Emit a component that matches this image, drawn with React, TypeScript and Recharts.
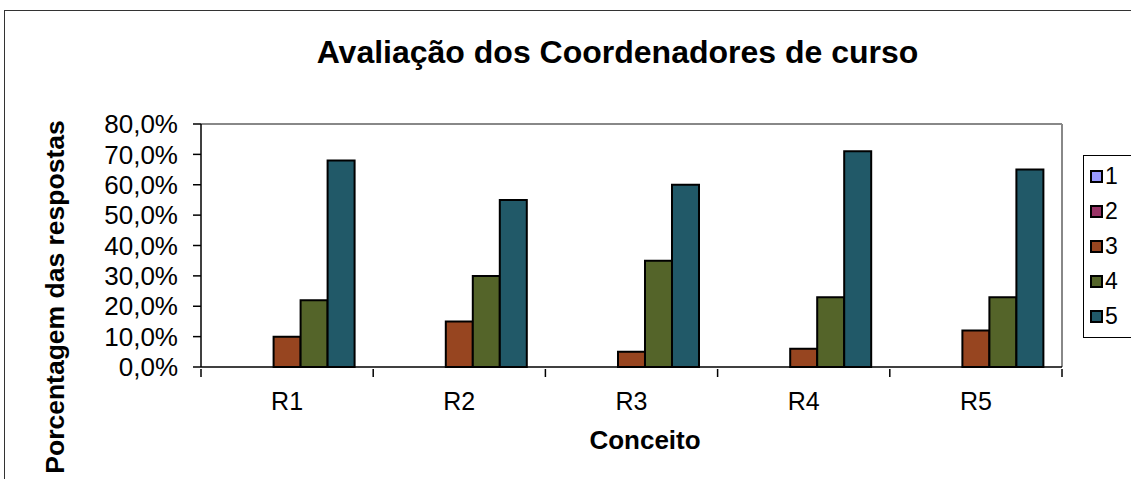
import React from 'react';
import { BarChart, Bar, XAxis, YAxis, Legend, CartesianGrid } from 'recharts';

const categories = ['R1', 'R2', 'R3', 'R4', 'R5'];
const serie1 = [0, 0, 0, 0, 0];
const serie2 = [0, 0, 0, 0, 0];
const serie3 = [10, 15, 5, 6, 12];
const serie4 = [22, 30, 35, 23, 23];
const serie5 = [68, 55, 60, 71, 65];
const yTicks = [0, 10, 20, 30, 40, 50, 60, 70, 80];

const seriesNames = ['1', '2', '3', '4', '5'];
const seriesColors = ['#9999FF', '#993366', '#974520', '#546429', '#215968'];

const data = categories.map((c, i) => ({
  name: c,
  s1: serie1[i],
  s2: serie2[i],
  s3: serie3[i],
  s4: serie4[i],
  s5: serie5[i],
}));

const FONT = '"Liberation Sans", Arial, sans-serif';

function fmtPct(v: number): string {
  return `${v.toFixed(1).replace('.', ',')}%`;
}

function CategoryTick(props: any) {
  const { x, y, payload, index } = props;
  const off = payload?.offset ?? 86;
  return (
    <g>
      <line x1={x - off} y1={y} x2={x - off} y2={y + 8} stroke="#000" strokeWidth={1.5} />
      {index === categories.length - 1 && (
        <line x1={x + off} y1={y} x2={x + off} y2={y + 8} stroke="#000" strokeWidth={1.5} />
      )}
      <text x={x} y={y + 41} textAnchor="middle" fontSize={25} fontFamily={FONT} fill="#000">
        {payload.value}
      </text>
    </g>
  );
}

function LegendBox() {
  return (
    <div style={{ fontFamily: FONT, fontSize: 23, lineHeight: '35px', color: '#000', paddingTop: 3, paddingLeft: 6 }}>
      {seriesNames.map((n, i) => (
        <div key={n} style={{ display: 'flex', alignItems: 'center', height: 35 }}>
          <span
            style={{
              display: 'inline-block',
              width: 9,
              height: 9,
              border: '2px solid #000',
              background: seriesColors[i],
              marginRight: 2,
            }}
          />
          <span>{n}</span>
        </div>
      ))}
    </div>
  );
}

export default function App() {
  return (
    <div style={{ position: 'absolute', left: 0, top: 0, width: 1131, height: 479, overflow: 'hidden', background: '#fff' }}>
      <div
        style={{
          position: 'absolute',
          left: 4,
          top: 10,
          width: 1200,
          height: 600,
          border: '1px solid #333',
        }}
      />
      <div
        style={{
          position: 'absolute',
          left: 0,
          top: 34,
          width: 1235,
          textAlign: 'center',
          fontFamily: FONT,
          fontWeight: 'bold',
          fontSize: 32,
          lineHeight: '36px',
          color: '#000',
        }}
      >
        Avaliação dos Coordenadores de curso
      </div>
      <div style={{ position: 'absolute', left: 0, top: 0 }}>
        <BarChart
          width={1131}
          height={479}
          data={data}
          margin={{ top: 124, right: 19, bottom: 0, left: 0 }}
          barCategoryGap="10.8%"
          barGap={0}
        >
          <CartesianGrid
            stroke="#888"
            strokeWidth={2}
            horizontalCoordinatesGenerator={({ offset }: any) => [offset.top]}
            verticalCoordinatesGenerator={({ offset }: any) => [offset.left + offset.width]}
          />
          <XAxis
            dataKey="name"
            height={112}
            tickSize={0}
            tickLine={false}
            tick={<CategoryTick />}
            axisLine={{ stroke: '#000', strokeWidth: 1.5 }}
            interval={0}
            label={() => (
              <text x={645} y={449} textAnchor="middle" fontSize={26} fontWeight="bold" fontFamily={FONT} fill="#000">
                Conceito
              </text>
            )}
          />
          <YAxis
            width={201}
            domain={[0, 80]}
            ticks={yTicks}
            interval={0}
            tickFormatter={fmtPct}
            tickSize={8}
            tickMargin={15}
            tick={{ fontSize: 26, fill: '#000', fontFamily: FONT }}
            tickLine={{ stroke: '#000', strokeWidth: 1.5 }}
            axisLine={{ stroke: '#000', strokeWidth: 1.5 }}
            label={() => (
              <text
                x={64}
                y={297}
                transform="rotate(-90 64 297)"
                textAnchor="middle"
                fontSize={26.5}
                fontWeight="bold"
                fontFamily={FONT}
                fill="#000"
              >
                Porcentagem das respostas
              </text>
            )}
          />
          <Legend
            layout="vertical"
            align="right"
            verticalAlign="top"
            content={<LegendBox />}
            wrapperStyle={{
              position: 'absolute',
              left: 1083,
              top: 155,
              width: 50,
              height: 183,
              boxSizing: 'border-box',
              border: '1px solid #000',
              borderRight: 'none',
              background: '#fff',
            }}
          />
          {['s1', 's2', 's3', 's4', 's5'].map((k, i) => (
            <Bar
              key={k}
              dataKey={k}
              name={seriesNames[i]}
              fill={seriesColors[i]}
              stroke="#000"
              strokeWidth={2}
              isAnimationActive={false}
            />
          ))}
        </BarChart>
      </div>
    </div>
  );
}
